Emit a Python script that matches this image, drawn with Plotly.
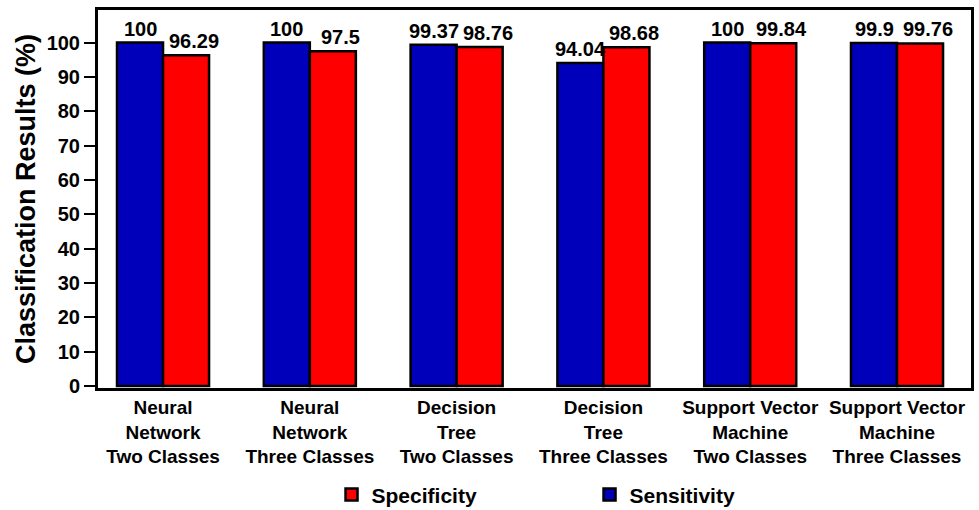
import plotly.graph_objects as go

categories = [
    "Neural<br>Network<br>Two Classes",
    "Neural<br>Network<br>Three Classes",
    "Decision<br>Tree<br>Two Classes",
    "Decision<br>Tree<br>Three Classes",
    "Support Vector<br>Machine<br>Two Classes",
    "Support Vector<br>Machine<br>Three Classes",
]
sensitivity = [100, 100, 99.37, 94.04, 100, 99.9]
specificity = [96.29, 97.5, 98.76, 98.68, 99.84, 99.76]
sens_labels = ["100", "100", "99.37", "94.04", "100", "99.9"]
spec_labels = ["96.29", "97.5", "98.76", "98.68", "99.84", "99.76"]
y_ticks = [0, 10, 20, 30, 40, 50, 60, 70, 80, 90, 100]

FONT = "Liberation Sans, Arial, sans-serif"
x_idx = list(range(len(categories)))
LABEL_FONT = dict(family=FONT, size=20, color="black", weight="bold")

fig = go.Figure()
fig.add_trace(go.Bar(
    x=x_idx, y=sensitivity, name="Sensitivity",
    marker=dict(color="#0000BB", line=dict(color="black", width=2.5)),
))
fig.add_trace(go.Bar(
    x=x_idx, y=specificity, name="Specificity",
    marker=dict(color="#FF0000", line=dict(color="black", width=2.5)),
))
# value labels above the bars (blue centred on its bar, red slightly right of its bar centre)
for xi, val, lab in zip(x_idx, sensitivity, sens_labels):
    fig.add_annotation(x=xi, y=val, text=lab, showarrow=False,
                       xanchor="center", yanchor="bottom", xshift=-23, yshift=1,
                       font=LABEL_FONT)
for xi, val, lab in zip(x_idx, specificity, spec_labels):
    fig.add_annotation(x=xi, y=val, text=lab, showarrow=False,
                       xanchor="center", yanchor="bottom", xshift=31, yshift=1,
                       font=LABEL_FONT)

fig.update_layout(
    width=979, height=510,
    margin=dict(l=98, r=8, t=10, b=122, autoexpand=False),
    paper_bgcolor="white", plot_bgcolor="white",
    barmode="group", bargap=0.373, bargroupgap=0,
    font=dict(family=FONT, color="black", weight="bold"),
    showlegend=True,
    legend=dict(
        orientation="h", traceorder="reversed",
        x=0.2675, xanchor="left", y=-0.283, yanchor="middle",
        font=dict(family=FONT, size=21, color="black", weight="bold"),
        entrywidth=213, entrywidthmode="pixels",
        bgcolor="rgba(0,0,0,0)",
    ),
)
fig.update_xaxes(
    tickmode="array", tickvals=x_idx, ticktext=categories,
    range=[-0.443, 5.504], automargin=False, tickangle=0,
    showline=True, linecolor="black", linewidth=3, mirror=True,
    ticks="", showgrid=False, zeroline=False,
    tickfont=dict(family=FONT, size=19, color="black", weight="bold"),
)
fig.update_yaxes(
    range=[-0.58, 109.5], automargin=False,
    tickmode="array", tickvals=y_ticks,
    showline=True, linecolor="black", linewidth=3, mirror=True,
    ticks="outside", ticklen=11, tickwidth=2, tickcolor="black",
    showgrid=False, zeroline=False,
    tickfont=dict(family=FONT, size=20, color="black", weight="bold"),
    title=dict(text="Classification Results (%)", standoff=4,
               font=dict(family=FONT, size=27, color="black", weight="bold")),
)

fig.write_html("out.html", config={"displayModeBar": False},
               post_script="document.body.style.margin='0';")
